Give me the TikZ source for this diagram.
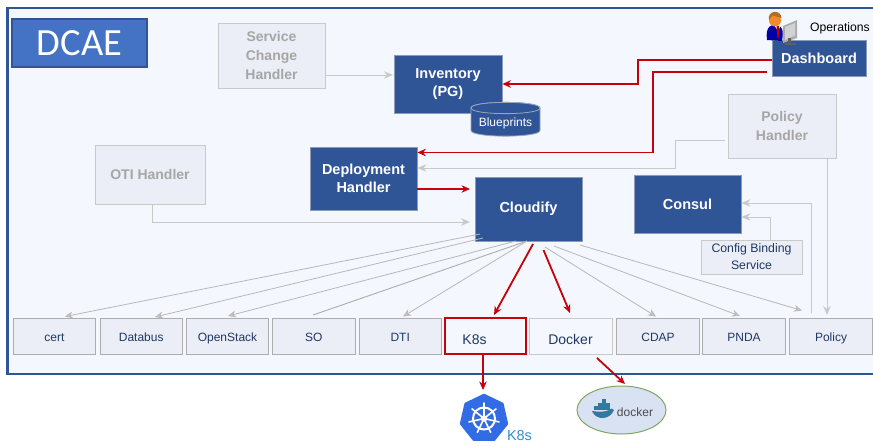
\documentclass[tikz,border=0pt]{standalone}
\usepackage{fontspec}
\setmainfont{Liberation Sans}
\newfontfamily\calibrilike{Carlito}
\usetikzlibrary{arrows.meta,shapes.geometric}
\definecolor{navy}{HTML}{2F5597}
\definecolor{frameblue}{HTML}{2F5597}
\definecolor{panel}{HTML}{F4F7FD}
\definecolor{pale}{HTML}{EBEEF6}
\definecolor{gline}{HTML}{C9C9C9}
\definecolor{gtext}{HTML}{A6A6A6}
\definecolor{redline}{HTML}{C8000A}
\definecolor{ink}{HTML}{1F3864}
\definecolor{dcaeblue}{HTML}{4472C4}
\definecolor{kblue}{HTML}{326CE5}
\definecolor{ktext}{HTML}{2F8FD0}
\definecolor{whale}{HTML}{2F7A9E}
\definecolor{ellfill}{HTML}{D9E2F3}
\definecolor{ellline}{HTML}{7FA65F}
\tikzset{
 x=1pt,y=-1pt,
 solidbox/.style={fill=navy,draw=gline!60!navy,line width=.8pt,text=white,font=\bfseries\fontsize{14.5}{18}\selectfont,inner sep=0pt,align=center},
 ghostbox/.style={fill=pale,draw=gline,line width=1pt,text=gtext,font=\bfseries\fontsize{14}{19}\selectfont,inner sep=0pt,align=center},
 leaf/.style={fill=pale,draw=black!32,line width=.9pt,text=ink,font=\fontsize{12}{14}\selectfont,inner sep=0pt,align=center,minimum width=82.5pt,minimum height=36pt,text height=10.6pt,text depth=0pt},
 bigleaf/.style={leaf,fill=panel,font=\fontsize{14}{16}\selectfont,text height=16.5pt},
 redarrow/.style={draw=redline,line width=1.8pt,-{Stealth[length=8.5pt,width=7.5pt]}},
 greyarrow/.style={draw=gline,line width=.9pt,-{Stealth[length=9pt,width=7.5pt]}},
 fanarrow/.style={draw=black!28,line width=.8pt,-{Stealth[length=8pt,width=7pt,fill=gline]}},
 cylline/.style={draw=gline!70!navy,line width=.8pt,fill=navy},
}
\begin{document}
\begin{tikzpicture}
\useasboundingbox (0,0) rectangle (873,447);
\fill[white] (0,0) rectangle (873,447);
\node[draw=frameblue,fill=panel,line width=2.2pt,minimum width=880pt,minimum height=366pt,inner sep=0pt,outer sep=0pt,anchor=north west] (frame) at (7.5,8) {};
\fill[white] (873,0) rectangle (890,447);
\node[fill=dcaeblue,draw=navy,line width=1.4pt,text=white,font=\calibrilike\fontsize{38.5}{40}\selectfont,minimum width=135pt,minimum height=48pt,inner sep=0pt] (dcae) at (79.5,43) {DCAE};
% upper boxes
\node[ghostbox,minimum width=107pt,minimum height=65pt] (sch) at (271.5,55.5) {Service\\Change\\Handler};
\node[solidbox,minimum width=108pt,minimum height=58pt] (inv) at (448,84) {Inventory\\(PG)};
\node[solidbox,minimum width=94pt,minimum height=36pt] (dash) at (819,58) {Dashboard};
\node[ghostbox,minimum width=108pt,minimum height=64pt] (ph) at (782,126) {Policy\\Handler};
\node[solidbox,minimum width=107pt,minimum height=63pt] (dep) at (363.5,178.5) {Deployment\\Handler};
\node[ghostbox,minimum width=110pt,minimum height=59pt] (oti) at (150,174.5) {OTI Handler};
\node[solidbox,minimum width=107pt,minimum height=64pt] (cfy) at (528.5,209) {Cloudify};
\node[solidbox,minimum width=107pt,minimum height=58pt] (consul) at (687.5,204) {Consul};
\node[fill=pale,draw=gline,line width=1pt,text=ink,font=\fontsize{12.3}{16.8}\selectfont,minimum width=101pt,minimum height=34pt,inner sep=0pt,align=center] (cbs) at (751.5,257) {Config Binding\\Service};
% cylinder
\path[cylline] (471,108) -- (471,130.5) .. controls (471,138) and (540,138) .. (540,130.5) -- (540,108) .. controls (540,100.5) and (471,100.5) .. (471,108) -- cycle;
\path[cylline] (471,108) .. controls (471,100.5) and (540,100.5) .. (540,108) .. controls (540,115.5) and (471,115.5) .. (471,108) -- cycle;
\node[text=white,font=\fontsize{12}{14}\selectfont,inner sep=0pt] (bp) at (505.5,123) {Blueprints};
% leaves
\node[leaf] (cert) at (54.5,336.3) {cert};
\node[leaf] (databus) at (141.2,336.3) {Databus};
\node[leaf] (os) at (227.5,336.3) {OpenStack};
\node[leaf] (so) at (313.8,336.3) {SO};
\node[leaf] (dti) at (400.2,336.3) {DTI};
\node[bigleaf,draw=redline,line width=1.8pt,minimum width=81pt] (k8s) at (485.5,336.3) {\hspace*{-22pt}K8s};
\node[bigleaf,draw=gline,minimum width=83pt] (docker) at (570.5,336.3) {Docker};
\node[leaf] (cdap) at (658,336.3) {CDAP};
\node[leaf] (pnda) at (744,336.3) {PNDA};
\node[leaf] (policy) at (831,336.3) {Policy};
% red connectors
\coordinate (d1) at (638,60); \coordinate (d2) at (638,84);
\coordinate (e0) at (767,72); \coordinate (e1) at (653,72); \coordinate (e2) at (653,152.5);
\draw[redarrow] (dash.west |- d1) -- (d1) -- (d2) -- (inv.east |- d2);
\draw[redarrow] (e0) -- (e1) -- (e2) -- (dep.east |- e2);
\coordinate (f1) at (470,189);
\draw[redarrow] (dep.east |- f1) -- (f1);
\coordinate (c1) at (533,244); \coordinate (c2) at (543.5,250);
\coordinate (c1e) at (494,315); \coordinate (c2e) at (570,313);
\draw[redarrow] (c1) -- (c1e);
\draw[redarrow] (c2) -- (c2e);
% grey connectors
\coordinate (g1) at (393,75);
\draw[greyarrow] (sch.east |- g1) -- (g1);
\coordinate (p0) at (725,140); \coordinate (p1) at (675,140); \coordinate (p2) at (675,168);
\draw[greyarrow] (p0) -- (p1) -- (p2) -- (dep.east |- p2);
\coordinate (o1) at (152,222); \coordinate (o2) at (470,222);
\draw[greyarrow] (oti.south -| o1) -- (o1) -- (o2);
\coordinate (q1) at (827,315);
\draw[greyarrow] (ph.south -| q1) -- (q1);
\coordinate (b0) at (811,313); \coordinate (b1) at (811,203);
\draw[greyarrow] (b0) -- (b1) -- (consul.east |- b1);
\coordinate (b2) at (770,217);
\draw[greyarrow] (cbs.north -| b2) -- (b2) -- (consul.east |- b2);
% fan from Cloudify
\draw[fanarrow] (480,234) -- (65,316.5);
\draw[fanarrow] (483,238) -- (155,317);
\draw[fanarrow] (516,241) -- (228,316);
\draw[draw=black!32,line width=.9pt] (527,241) -- (313,315);
\draw[fanarrow] (527,241) -- (403,316.5);
\draw[fanarrow] (545,247) -- (656,316.5);
\draw[fanarrow] (554,246) -- (740,316);
\draw[fanarrow] (580,245) -- (802,310.5);
% lower red
\coordinate (k1) at (483,390);
\draw[redarrow] (k8s.south -| k1) -- (k1);
\coordinate (dk1) at (597,358); \coordinate (dk2) at (625,384);
\draw[redarrow] (dk1) -- (dk2);
% K8s logo
\node[regular polygon,regular polygon sides=7,fill=kblue,draw=kblue,line width=2.5pt,line join=round,minimum size=47pt,inner sep=0pt] (kl) at (484,418.5) {};
\draw[white,line width=2pt] (kl.center) circle (11pt);
\fill[white] (kl.center) circle (3.2pt);
\foreach \a in {90,141.4,192.9,244.3,295.7,347.1,38.6} \draw[white,line width=1.6pt,line cap=round] (kl.center) -- ++(\a:15.5pt);
\node[text=ktext,font=\fontsize{14.5}{16}\selectfont,inner sep=0pt] (kt) at (519.5,436) {K8s};
% docker
\node[ellipse,draw=ellline,fill=ellfill,line width=1pt,minimum width=89pt,minimum height=48pt,inner sep=0pt] (del) at (621.5,410) {};
\node[font=\fontsize{12}{13}\selectfont,text=black!70,inner sep=0pt] (dt) at (635,412) {docker};
\fill[whale] (592,411) .. controls (598,412) and (606,412) .. (609,410) .. controls (610,408) and (612,408) .. (614,410) .. controls (610,420) and (596,421) .. (592,411) -- cycle;
\foreach \cx/\cy in {596/408,600/408,604/408,608/408,600/404.5,604/404.5,608/404.5,604/401}
  \fill[whale] (\cx-1.7,\cy-1.6) rectangle (\cx+1.7,\cy+1.6);
% operations
\node[font=\fontsize{12.2}{14}\selectfont,inner sep=0pt] (ops) at (840,28) {Operations};
% operator figure
\fill[gray!65] (783,26) -- (797,20) -- (797,38) -- (783,43) -- cycle;
\fill[gray!35] (785,27) -- (795,23) -- (795,35.5) -- (785,40) -- cycle;
\fill[gray!75!black] (788,38) rectangle (791,44);
\fill[gray!75!black] (785,43) rectangle (796,45);
\fill[blue!65!black] (767,40) .. controls (765,26) and (772,24) .. (776,25) .. controls (782,25) and (784,30) .. (782,41) -- cycle;
\fill[white] (774,25) -- (781,25) -- (778,31) -- cycle;
\fill[red!75!black] (776.5,26) -- (779,26) -- (779,37) -- (777.5,38) -- cycle;
\fill[orange!75!brown!90!white] (775,20.5) circle (6pt);
\fill[brown!70!orange!85!black] (769,20) .. controls (767,10) and (781,9) .. (781.5,18) -- (772.5,15.5) -- cycle;
\end{tikzpicture}
\end{document}
